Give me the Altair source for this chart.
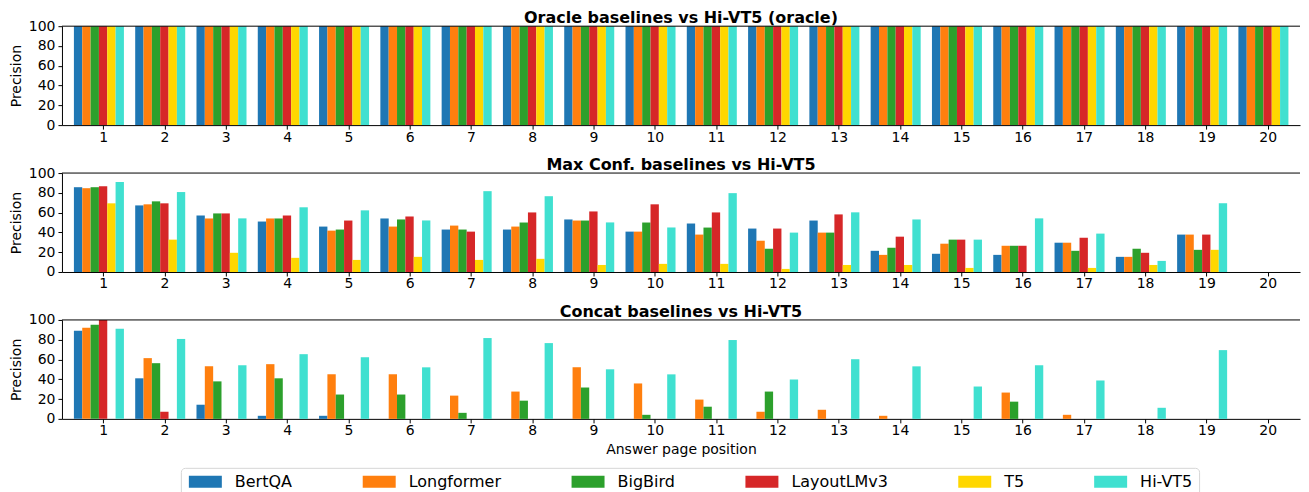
import altair as alt
import pandas as pd

pages = list(range(1, 21))
models = ["BertQA", "Longformer", "BigBird", "LayoutLMv3", "T5", "Hi-VT5"]
colors = ["#1f77b4", "#ff7f0e", "#2ca02c", "#d62728", "#ffd700", "#40e0d0"]

# Oracle baselines vs Hi-VT5 (oracle): every model at 100 for every page
oracle_values = [100, 100, 100, 100, 100, 100, 100, 100, 100, 100,
                 100, 100, 100, 100, 100, 100, 100, 100, 100, 100]

# Max Conf. baselines
bertqa_mc = [85.7, 67.3, 57.1, 51.0, 45.9, 54.1, 42.9, 42.9, 53.1, 40.8,
             49.0, 43.9, 52.0, 21.4, 18.4, 17.3, 29.6, 15.3, 37.8, 0]
longformer_mc = [84.7, 68.4, 54.1, 54.1, 41.8, 45.9, 46.9, 45.9, 52.0, 40.8,
                 37.8, 31.6, 39.8, 17.3, 28.6, 26.5, 29.6, 15.3, 37.8, 0]
bigbird_mc = [85.7, 71.4, 59.2, 54.1, 42.9, 53.1, 42.9, 50.0, 52.0, 50.0,
              44.9, 23.5, 39.8, 24.5, 32.7, 26.5, 21.4, 23.5, 22.4, 0]
layoutlm_mc = [86.7, 69.4, 59.2, 57.1, 52.0, 56.1, 40.8, 60.2, 61.2, 68.4,
               60.2, 43.9, 58.2, 35.7, 32.7, 26.5, 34.7, 19.4, 37.8, 0]
t5_mc = [69.4, 32.7, 19.4, 14.3, 12.2, 15.3, 12.2, 13.3, 7.1, 8.2,
         8.2, 3.1, 7.1, 7.1, 4.1, 0, 4.1, 7.1, 22.4, 0]

# Hi-VT5 (same in Max Conf. and Concat panels)
hivt5 = [91.0, 80.8, 54.2, 65.4, 62.3, 52.1, 81.7, 76.6, 50.1, 45.0,
         79.7, 39.8, 60.3, 53.1, 32.7, 54.2, 38.8, 11.2, 69.5, 0]

# Concat baselines
bertqa_cc = [89.1, 41.0, 14.3, 3.1, 3.1, 0, 0, 0, 0, 0,
             0, 0, 0, 0, 0, 0, 0, 0, 0, 0]
longformer_cc = [92.2, 61.4, 53.2, 55.3, 45.1, 45.1, 23.5, 27.6, 52.2, 35.8,
                 19.5, 7.2, 9.2, 3.1, 0, 26.6, 4.1, 0, 0, 0]
bigbird_cc = [95.2, 56.3, 37.9, 41.0, 24.6, 24.6, 6.1, 18.4, 31.7, 4.1,
              12.3, 27.6, 0, 0, 0, 17.4, 0, 0, 0, 0]
layoutlm_cc = [100, 7.2, 0, 0, 0, 0, 0, 0, 0, 0,
               0, 0, 0, 0, 0, 0, 0, 0, 0, 0]
t5_cc = [0, 0, 0, 0, 0, 0, 0, 0, 0, 0,
         0, 0, 0, 0, 0, 0, 0, 0, 0, 0]

panels = {
    "oracle": [oracle_values] * 6,
    "maxconf": [bertqa_mc, longformer_mc, bigbird_mc, layoutlm_mc, t5_mc, hivt5],
    "concat": [bertqa_cc, longformer_cc, bigbird_cc, layoutlm_cc, t5_cc, hivt5],
}

rows = []
for pname, series in panels.items():
    for i, (m, vals) in enumerate(zip(models, series)):
        for p, v in zip(pages, vals):
            rows.append({"panel": pname, "page": p, "model": m, "idx": i, "value": v})
df = pd.DataFrame(rows)

FONT = "DejaVu Sans"
BAR_W = 0.136
BAR_START = -0.478
PLOT_W = 1239
PLOT_H = 99

xscale = alt.Scale(domain=[0.327, 20.527], nice=False, zero=False)
yscale = alt.Scale(domain=[0, 100], nice=False)

spine_df = pd.DataFrame({"k": [0]})


def make_panel(name, title, xtitle):
    bars = (
        alt.Chart(df)
        .transform_filter(alt.datum.panel == name)
        .transform_calculate(
            x0=f"datum.page + ({BAR_START}) + datum.idx * {BAR_W}",
            x1=f"datum.page + ({BAR_START}) + (datum.idx + 1) * {BAR_W}",
        )
        .mark_bar(strokeWidth=0)
        .encode(
            x=alt.X("x0:Q", scale=xscale,
                    axis=alt.Axis(values=pages, format="d", title=xtitle, grid=False,
                                  labelFlush=False, labelOverlap=False)),
            x2="x1:Q",
            y=alt.Y("value:Q", scale=yscale,
                    axis=alt.Axis(values=[0, 20, 40, 60, 80, 100], title="Precision", grid=False)),
            y2=alt.datum(0),
            color=alt.Color(
                "model:N",
                scale=alt.Scale(domain=models, range=colors),
                legend=alt.Legend(
                    orient="none", legendX=119, legendY=442, direction="horizontal",
                    columns=6, title=None,
                    symbolType="M-1,-1H4.5V1H-1Z", symbolSize=144,
                    symbolStrokeWidth=0, symbolOpacity=1,
                    labelFontSize=16, labelFont=FONT, labelColor="black",
                    labelOffset=32, columnPadding=68, padding=6,
                    strokeColor="#d6d6d6", fillColor="white", cornerRadius=4,
                ),
            ),
            tooltip=["model:N", "page:Q", "value:Q"],
        )
    )
    top_spine = (
        alt.Chart(spine_df)
        .mark_rule(color="black", strokeWidth=1)
        .encode(x=alt.value(0), x2=alt.value(PLOT_W), y=alt.value(0))
    )
    return alt.layer(bars, top_spine).properties(
        width=PLOT_W, height=PLOT_H,
        title=alt.TitleParams(title, fontSize=16, font=FONT, fontWeight="bold",
                              offset=-7, anchor="middle", frame="group", color="black"),
    )


p1 = make_panel("oracle", "Oracle baselines vs Hi-VT5 (oracle)", "")
p2 = make_panel("maxconf", "Max Conf. baselines vs Hi-VT5", "")
p3 = make_panel("concat", "Concat baselines vs Hi-VT5", "Answer page position")

chart = (
    alt.vconcat(p1, p2, p3, spacing=13)
    .properties(padding={"left": 1, "top": 2, "right": 0, "bottom": 0})
    .configure(font=FONT)
    .configure_view(stroke=None)
    .configure_axis(
        domainColor="black", tickColor="black", labelColor="black",
        titleColor="black", labelFontSize=14, titleFontSize=14,
        labelFont=FONT, titleFont=FONT, titleFontWeight="normal",
        tickSize=4, domainWidth=1,
    )
    .configure_axisY(titlePadding=5, labelPadding=3)
    .configure_axisX(titlePadding=5, labelPadding=1)
)

chart.save("out.html", embed_options={"renderer": "svg", "actions": False})
